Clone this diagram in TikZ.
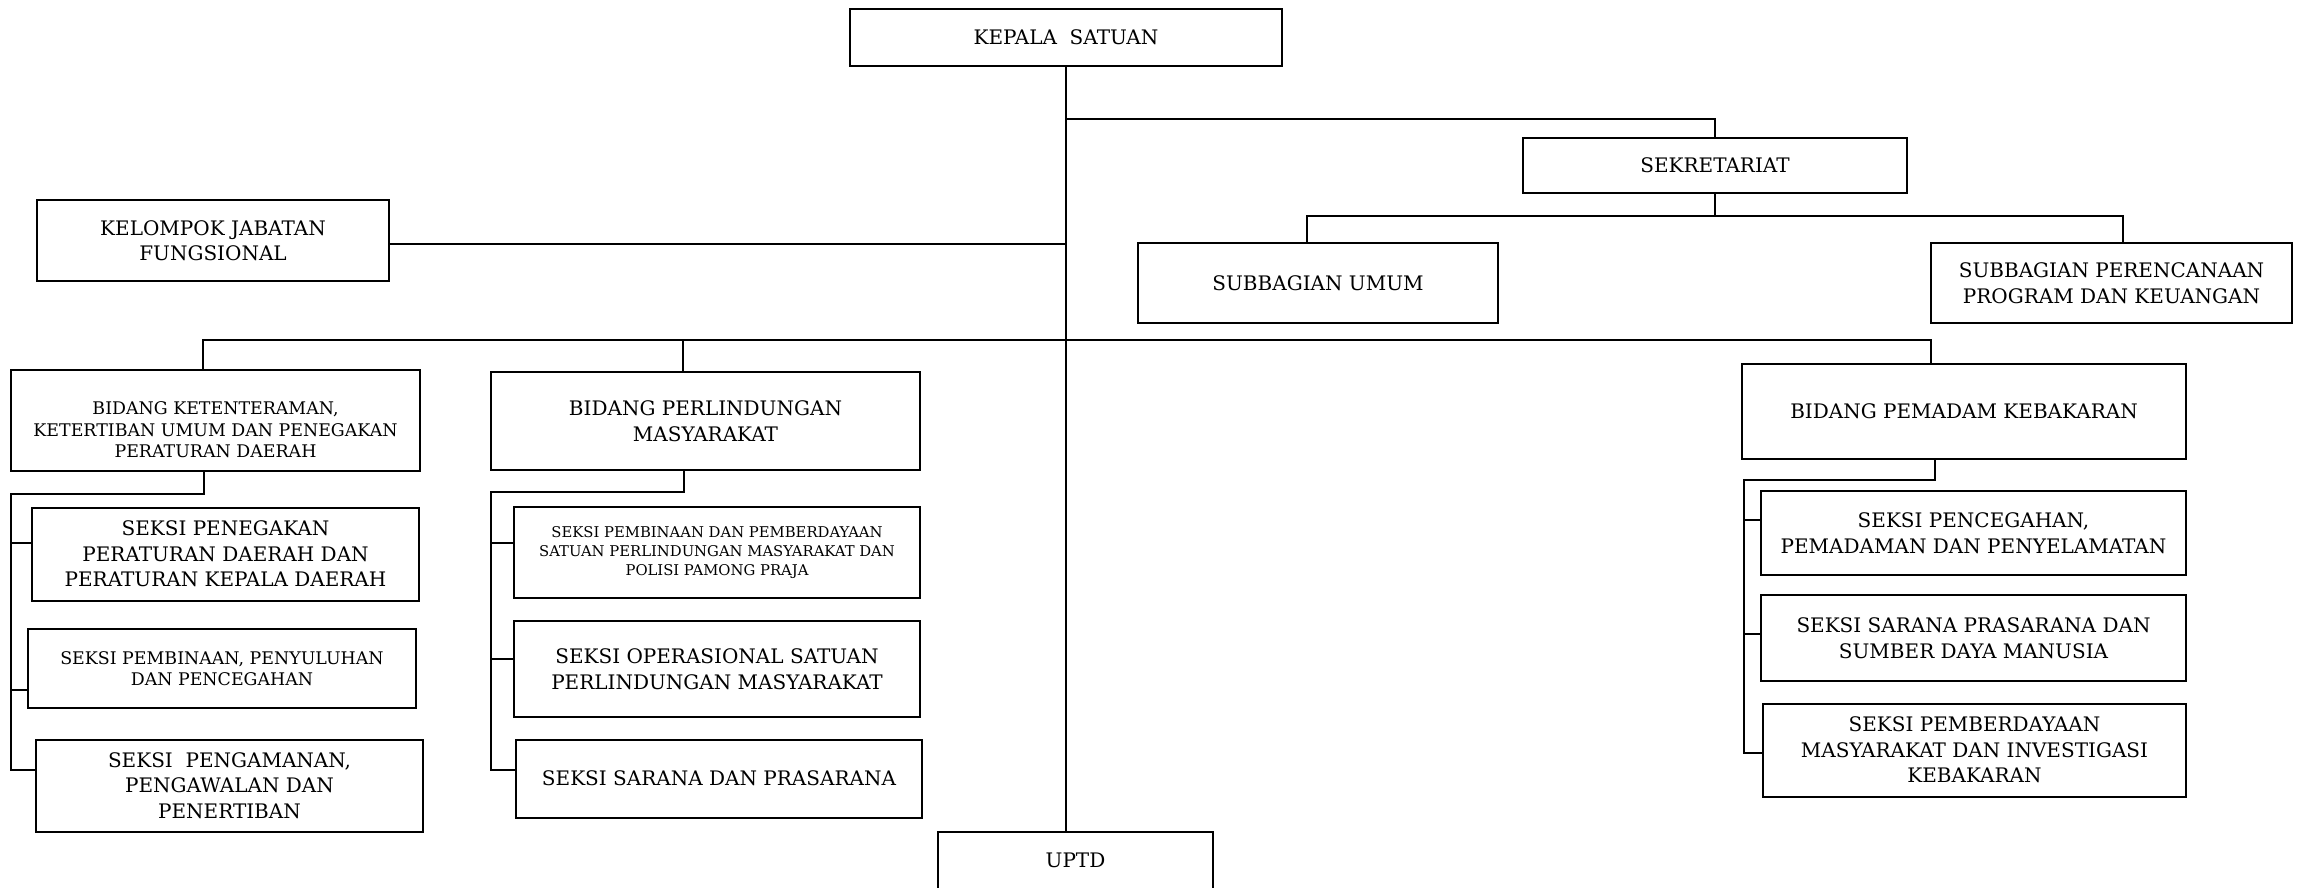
\documentclass[tikz,border=0pt]{standalone}
\usepackage{fontspec}
\setmainfont{DejaVu Serif}
\usetikzlibrary{positioning,calc}

\begin{document}
\begin{tikzpicture}[
  x=1pt, y=-1pt,
  unit/.style={draw=black, line width=2pt, align=center, inner sep=0pt,
               font=\fontsize{20}{25.5}\selectfont},
  kecil/.style={font=\fontsize{17.4}{21.5}\selectfont},
  mini/.style={font=\fontsize{14.8}{18.8}\selectfont},
  link/.style={black, line width=2pt},
]
  \useasboundingbox (0,0) rectangle (2303,887);
  \clip (0,0) rectangle (2303,887);

  %% Pimpinan, sekretariat dan jabatan fungsional
  \node[unit, minimum width=432pt, minimum height=57pt] (kepala) at (1066,37.5) {KEPALA\ \ SATUAN};
  \node[unit, minimum width=384pt, minimum height=55pt] (sekret) at (1715,165.5) {SEKRETARIAT};
  \node[unit, minimum width=352pt, minimum height=81pt] (jabfung) at (213,240.5) {KELOMPOK JABATAN\\FUNGSIONAL};
  \node[unit, minimum width=360pt, minimum height=80pt] (sbumum) at (1318,283) {SUBBAGIAN UMUM};
  \node[unit, minimum width=361pt, minimum height=80pt] (sbprog) at (2111.5,283) {SUBBAGIAN PERENCANAAN\\PROGRAM DAN KEUANGAN};

  %% Bidang
  \node[unit, kecil, minimum width=409pt, minimum height=101pt] (bidtrantib) at (215.5,420)
    {\rule{0pt}{33pt}BIDANG KETENTERAMAN,\\KETERTIBAN UMUM DAN PENEGAKAN\\PERATURAN DAERAH};
  \node[unit, minimum width=429pt, minimum height=97.5pt] (bidlinmas) at (705.5,421) {BIDANG PERLINDUNGAN\\MASYARAKAT};
  \node[unit, minimum width=444pt, minimum height=94.5pt] (biddamkar) at (1964,411.5) {BIDANG PEMADAM KEBAKARAN};

  %% Seksi di bawah tiap bidang
  \node[unit, minimum width=387pt, minimum height=93pt] (skgakda) at (225.5,554)
    {SEKSI PENEGAKAN\\PERATURAN DAERAH DAN\\PERATURAN KEPALA DAERAH};
  \node[unit, kecil, minimum width=388pt, minimum height=79pt] (skbinluh) at (222,668.5)
    {SEKSI PEMBINAAN, PENYULUHAN\\DAN PENCEGAHAN};
  \node[unit, minimum width=387pt, minimum height=92pt] (skpamwal) at (229.5,785.5)
    {SEKSI\ \ PENGAMANAN,\\PENGAWALAN DAN\\PENERTIBAN};
  \node[unit, mini, minimum width=406pt, minimum height=91.5pt] (skbinda) at (717,552.5)
    {SEKSI PEMBINAAN DAN PEMBERDAYAAN\\SATUAN PERLINDUNGAN MASYARAKAT DAN\\POLISI PAMONG PRAJA};
  \node[unit, minimum width=406pt, minimum height=96pt] (skops) at (717,669)
    {SEKSI OPERASIONAL SATUAN\\PERLINDUNGAN MASYARAKAT};
  \node[unit, minimum width=406pt, minimum height=78pt] (sksarpras) at (719,778.5) {SEKSI SARANA DAN PRASARANA};
  \node[unit, minimum width=425pt, minimum height=84pt] (skcegah) at (1973.5,533)
    {SEKSI PENCEGAHAN,\\PEMADAMAN DAN PENYELAMATAN};
  \node[unit, minimum width=425pt, minimum height=86pt] (sksdm) at (1973.5,638)
    {SEKSI SARANA PRASARANA DAN\\SUMBER DAYA MANUSIA};
  \node[unit, minimum width=423pt, minimum height=93pt] (skinvest) at (1974.5,750)
    {SEKSI PEMBERDAYAAN\\MASYARAKAT DAN INVESTIGASI\\KEBAKARAN};

  %% UPTD (terpotong di tepi bawah)
  \node[unit, anchor=north, minimum width=275pt, inner ysep=12pt, text height=23pt, text depth=80pt]
    (uptd) at (1075.5,831) {UPTD};

  %% Titik cabang
  \coordinate (sekbus) at (1066,119);
  \coordinate (subbus) at (1715,216);
  \coordinate (bidbus) at (1066,340);
  \coordinate (trtop)  at (11,494);
  \coordinate (lmtop)  at (491,492);
  \coordinate (dktop)  at (1744,479.5);

  %% Garis komando utama
  \draw[link] (kepala.south) -- (kepala.south |- uptd.north);
  \draw[link] (sekbus) -| (sekret.north);
  \draw[link] ([yshift=-3.5pt]jabfung.east) -- ([yshift=-3.5pt]jabfung.east -| kepala.south);
  \draw[link] (sekret.south) -- (subbus);
  \draw[link] ([xshift=-11pt]sbumum.north) |- (subbus) -| ([xshift=11.5pt]sbprog.north);
  \draw[link] ([xshift=-12.5pt]bidtrantib.north) |- (bidbus) -| ([xshift=-33pt]biddamkar.north);
  \draw[link] ([xshift=-23pt]bidlinmas.north) -- ([xshift=-23pt]bidlinmas.north |- bidbus);

  %% Bidang ketenteraman ke seksi
  \draw[link] ([xshift=-11.5pt]bidtrantib.south) |- (trtop) -- ([yshift=15.8pt]skpamwal.west -| trtop)
    -- ([yshift=15.8pt]skpamwal.west);
  \draw[link] ([yshift=11.4pt]skgakda.west -| trtop) -- ([yshift=11.4pt]skgakda.west);
  \draw[link] ([yshift=-21.2pt]skbinluh.west -| trtop) -- ([yshift=-21.2pt]skbinluh.west);

  %% Bidang perlindungan masyarakat ke seksi
  \draw[link] ([xshift=-21.5pt]bidlinmas.south) |- (lmtop) -- ([yshift=9pt]sksarpras.west -| lmtop)
    -- ([yshift=9pt]sksarpras.west);
  \draw[link] ([yshift=10pt]skbinda.west -| lmtop) -- ([yshift=10pt]skbinda.west);
  \draw[link] ([yshift=10.3pt]skops.west -| lmtop) -- ([yshift=10.3pt]skops.west);

  %% Bidang pemadam kebakaran ke seksi
  \draw[link] ([xshift=-29pt]biddamkar.south) |- (dktop) -- ([yshift=-3.3pt]skinvest.west -| dktop)
    -- ([yshift=-3.3pt]skinvest.west);
  \draw[link] ([yshift=12.7pt]skcegah.west -| dktop) -- ([yshift=12.7pt]skcegah.west);
  \draw[link] ([yshift=4.4pt]sksdm.west -| dktop) -- ([yshift=4.4pt]sksdm.west);

\end{tikzpicture}
\end{document}
